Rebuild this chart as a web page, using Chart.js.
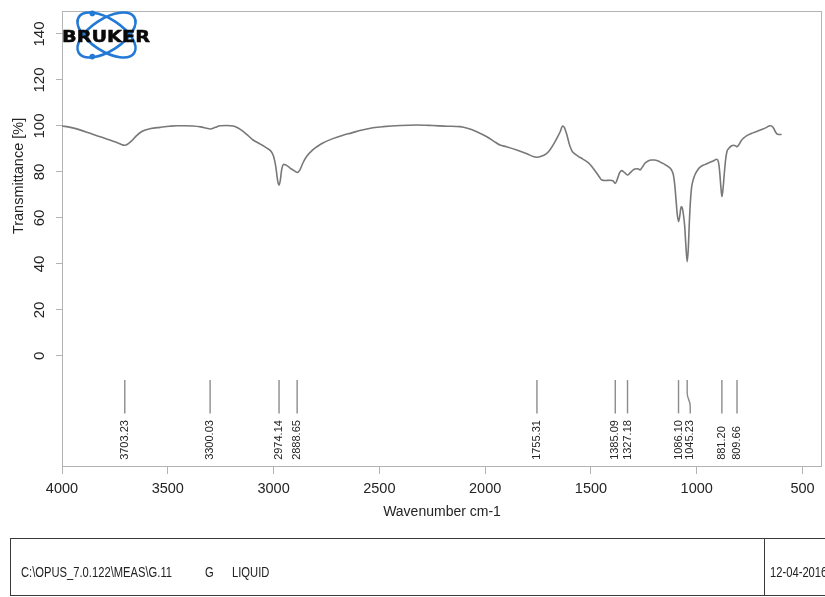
<!DOCTYPE html>
<html>
<head>
<meta charset="utf-8">
<title>IR spectrum</title>
<script src="https://cdn.jsdelivr.net/npm/chart.js@4.4.1/dist/chart.umd.min.js"></script>
<style>
  html, body { margin: 0; padding: 0; background: #fff; }
  #wrap { position: relative; width: 825px; height: 597px; overflow: hidden; }
  #chart { position: absolute; left: 0; top: 0; }
  #logo { position: absolute; left: 0; top: 0; }
  #info { position: absolute; left: 10px; top: 538px; width: 840px; height: 58px;
          border: 1px solid #3a3a3a; box-sizing: border-box; }
  #info .sep { position: absolute; left: 753px; top: 0; bottom: 0; border-left: 1px solid #3a3a3a; }
  #info .t { position: absolute; top: 25px; font: 14px "Liberation Sans", Arial, sans-serif;
             color: #222; white-space: nowrap; transform: scaleX(0.8); transform-origin: 0 0; }
</style>
</head>
<body>
<div id="wrap">
  <canvas id="chart" width="825" height="597"></canvas>
  <svg id="logo" width="170" height="70" viewBox="0 0 170 70">
    <g fill="none" stroke="#2279d6" stroke-width="2.6">
      <ellipse cx="106.5" cy="35" rx="33" ry="16" transform="rotate(33 106.5 35)"/>
      <ellipse cx="106.5" cy="35" rx="33" ry="16" transform="rotate(-33 106.5 35)"/>
    </g>
    <circle cx="92.3" cy="13.4" r="2.8" fill="#2279d6"/>
    <circle cx="92.3" cy="56.6" r="2.8" fill="#2279d6"/>
    <text x="62" y="42" font-family="DejaVu Sans" font-weight="900" font-size="16.5"
          textLength="88" lengthAdjust="spacingAndGlyphs" fill="#0a0a0a"
          stroke="#0a0a0a" stroke-width="0.5">BRUKER</text>
  </svg>
  <div id="info">
    <span class="t" style="left:10px">C:\OPUS_7.0.122\MEAS\G.11</span>
    <span class="t" style="left:194px">G</span>
    <span class="t" style="left:221px">LIQUID</span>
    <div class="sep"></div>
    <span class="t" style="left:759px">12-04-2016</span>
  </div>
</div>
<script>
// Spectrum: wavenumber (cm-1) and transmittance (%)
const wavenumbers = [
  4000, 3960, 3915, 3870, 3820, 3770, 3730, 3703.23, 3688, 3671, 3650, 3623, 3580, 3537, 3490,
  3458, 3420, 3381, 3345, 3300.03, 3275, 3253, 3220, 3192, 3172, 3159, 3130, 3097, 3060, 3030,
  3012, 3000, 2990, 2980, 2974.14, 2968, 2962, 2952, 2944, 2930, 2920, 2905, 2888.65, 2876, 2862,
  2844, 2815, 2790, 2767, 2720, 2672, 2630, 2592, 2530, 2482, 2400, 2324, 2250, 2180, 2119,
  2080, 2040, 1990, 1950, 1930, 1900, 1851, 1800, 1770, 1755.31, 1735, 1712, 1694, 1675, 1660,
  1645, 1634, 1626, 1614, 1602, 1590, 1578, 1560, 1540, 1513, 1495, 1475, 1460, 1449, 1430,
  1410, 1396, 1385.09, 1375, 1365, 1355, 1342, 1327.18, 1315, 1300, 1292, 1278, 1268, 1258, 1245,
  1230, 1215, 1200, 1185, 1166, 1150, 1130, 1119, 1110, 1104, 1098, 1092, 1086.10, 1080, 1074,
  1069, 1063, 1057, 1052, 1045.23, 1040, 1035, 1030, 1024, 1016, 1009, 995, 980, 962, 940,
  920, 906, 898, 892, 886, 881.20, 876, 870, 864, 857, 848, 835, 825, 815, 809.66,
  800, 790, 780, 765, 740, 717, 690, 670, 654, 645, 636, 627, 618, 608, 599
];
const transmittance = [
  100.0, 99.4, 98.3, 96.9, 95.3, 93.8, 92.4, 91.6, 92.2, 93.5, 95.6, 97.6, 98.9, 99.4, 99.9,
  100.1, 100.1, 100.0, 99.6, 98.7, 99.4, 100.1, 100.2, 100.0, 99.3, 98.6, 96.6, 93.9, 92.0, 90.3,
  89.0, 86.8, 82.5, 75.8, 74.3, 76.5, 80.9, 83.3, 83.1, 82.3, 81.6, 80.7, 79.8, 80.8, 83.8,
  86.7, 89.6, 91.3, 92.6, 94.5, 96.0, 97.0, 98.0, 99.2, 99.7, 100.2, 100.4, 100.2, 99.9, 99.7,
  98.9, 97.5, 95.2, 92.8, 91.7, 91.0, 89.6, 87.8, 86.6, 86.4, 86.8, 87.9, 89.6, 92.3, 94.8,
  97.6, 100.0, 99.4, 96.2, 92.0, 89.2, 88.0, 86.8, 85.7, 84.1, 82.3, 79.8, 77.8, 76.5, 76.3,
  76.4, 76.2, 75.0, 77.0, 79.6, 80.6, 79.8, 78.7, 79.6, 80.9, 81.3, 81.4, 80.9, 82.0, 83.8,
  84.8, 85.2, 85.2, 84.9, 84.0, 83.2, 82.0, 80.8, 78.5, 74.5, 68.0, 61.5, 58.4, 61.0, 64.8,
  64.5, 61.5, 56.5, 49.0, 41.0, 46.5, 58.0, 67.0, 73.5, 76.8, 78.7, 81.0, 82.4, 83.2, 84.1,
  84.9, 85.5, 84.5, 80.5, 73.5, 69.3, 72.5, 79.0, 85.0, 89.0, 90.3, 91.4, 91.6, 91.3, 91.0,
  92.0, 93.6, 94.6, 95.7, 96.8, 97.6, 98.6, 99.4, 100.1, 99.9, 98.9, 97.3, 96.4, 96.3, 96.3
];

// Picked peaks (cm-1)
const peakWavenumbers = [3703.23, 3300.03, 2974.14, 2888.65, 1755.31, 1385.09, 1327.18, 1086.10, 1045.23, 881.20, 809.66];

// Axis ticks
const xTickValues = [4000, 3500, 3000, 2500, 2000, 1500, 1000, 500];
const yTickValues = [0, 20, 40, 60, 80, 100, 120, 140];

const FONT = '"Liberation Sans", Arial, sans-serif';
const TEXT = '#242424';
const FRAME = '#b3b3b3';

// Box round the plot area
const framePlugin = {
  id: 'frame',
  beforeDatasetsDraw(chart) {
    const { ctx, chartArea: a } = chart;
    ctx.save();
    ctx.strokeStyle = FRAME;
    ctx.lineWidth = 1;
    ctx.strokeRect(Math.round(a.left) + 0.5, Math.round(a.top) + 0.5,
                   Math.round(a.right - a.left) - 1, Math.round(a.bottom - a.top) - 1);
    ctx.restore();
  }
};

// Peak markers and their wavenumber labels under the spectrum
const peakPlugin = {
  id: 'peaks',
  afterDatasetsDraw(chart) {
    const { ctx } = chart;
    const xs = chart.scales.x, ys = chart.scales.y;
    const yTop = ys.getPixelForValue(-10.5);
    const yBend1 = ys.getPixelForValue(-16);
    const yBend2 = ys.getPixelForValue(-22);
    const yBot = ys.getPixelForValue(-25);
    const yText = ys.getPixelForValue(-45.2);
    const minGap = 11.7;
    let prev = -Infinity;
    ctx.save();
    ctx.strokeStyle = '#8c8c8c';
    ctx.lineWidth = 1.4;
    ctx.fillStyle = TEXT;
    ctx.font = '11px ' + FONT;
    peakWavenumbers.forEach(wn => {
      const px = xs.getPixelForValue(wn);
      const lx = Math.max(px, prev + minGap);
      prev = lx;
      ctx.beginPath();
      ctx.moveTo(px, yTop);
      ctx.lineTo(px, yBend1);
      const mid = (yBend1 + yBend2) / 2;
      ctx.bezierCurveTo(px, mid, lx, mid, lx, yBend2);
      ctx.lineTo(lx, yBot);
      ctx.stroke();
      ctx.save();
      ctx.translate(lx, yText);
      ctx.rotate(-Math.PI / 2);
      ctx.textAlign = 'left';
      ctx.textBaseline = 'middle';
      ctx.fillText(wn.toFixed(2), 0, 0);
      ctx.restore();
    });
    ctx.restore();
  }
};

// Vertical axis title, centred on the labelled range
const yTitlePlugin = {
  id: 'ytitle',
  afterDraw(chart) {
    const { ctx } = chart;
    const ys = chart.scales.y;
    const cy = (ys.getPixelForValue(yTickValues[0]) + ys.getPixelForValue(yTickValues[yTickValues.length - 1])) / 2 - 19;
    ctx.save();
    ctx.translate(19, cy);
    ctx.rotate(-Math.PI / 2);
    ctx.textAlign = 'center';
    ctx.textBaseline = 'middle';
    ctx.fillStyle = TEXT;
    ctx.font = '14.5px ' + FONT;
    ctx.fillText('Transmittance [%]', 0, 0);
    ctx.restore();
  }
};

const noPad = s => { s.paddingLeft = 0; s.paddingRight = 0; s.paddingTop = 0; s.paddingBottom = 0; };

new Chart(document.getElementById('chart'), {
  type: 'line',
  data: {
    datasets: [{
      data: wavenumbers.map((w, i) => ({ x: w, y: transmittance[i] })),
      borderColor: '#787878',
      borderWidth: 1.6,
      pointRadius: 0,
      fill: false,
      cubicInterpolationMode: 'monotone'
    }]
  },
  options: {
    responsive: false,
    animation: false,
    devicePixelRatio: 1,
    layout: { padding: { left: 0, top: 11, right: 3, bottom: 70 } },
    plugins: { legend: { display: false }, tooltip: { enabled: false } },
    scales: {
      x: {
        type: 'linear',
        reverse: true,
        min: 408,
        max: 4000,
        afterBuildTicks: s => { s.ticks = xTickValues.map(v => ({ value: v })); },
        afterFit: s => { s.height = 60; noPad(s); },
        border: { display: false },
        grid: { drawOnChartArea: false, drawTicks: true, tickLength: 7, color: FRAME },
        ticks: {
          autoSkip: false, maxRotation: 0, padding: 6,
          color: TEXT, font: { family: FONT, size: 14.5 },
          callback: v => String(v)
        },
        title: {
          display: true, text: 'Wavenumber cm-1', color: TEXT,
          font: { family: FONT, size: 14 }, padding: { top: 0, bottom: 6 }
        }
      },
      y: {
        type: 'linear',
        min: -48.3,
        max: 150,
        afterBuildTicks: s => { s.ticks = yTickValues.map(v => ({ value: v })); },
        afterFit: s => { s.width = 62; noPad(s); },
        border: { display: false },
        grid: { drawOnChartArea: false, drawTicks: true, tickLength: 6, color: FRAME },
        ticks: {
          autoSkip: false, minRotation: 90, maxRotation: 90, crossAlign: 'center', padding: 3.5,
          color: TEXT, font: { family: FONT, size: 15 },
          callback: v => String(v)
        }
      }
    }
  },
  plugins: [framePlugin, peakPlugin, yTitlePlugin]
});
</script>
</body>
</html>
